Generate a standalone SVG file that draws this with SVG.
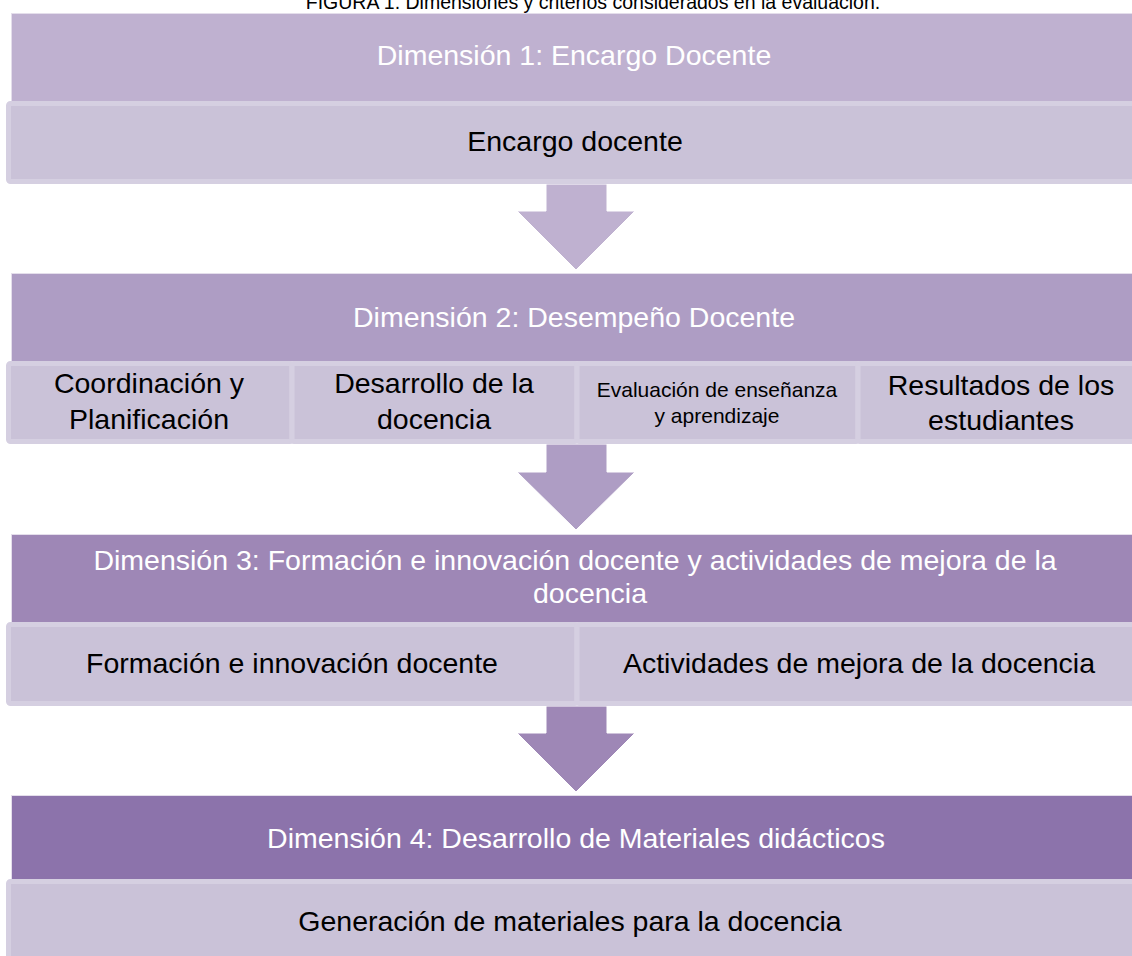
<svg xmlns="http://www.w3.org/2000/svg" width="1132" height="956" viewBox="0 0 1132 956">
  <style>
    text { font-family: "Liberation Sans", Arial, sans-serif; text-anchor: middle; }
    .hd { font-size: 28.5px; fill: #FFFFFF; }
    .sb { font-size: 28.5px; fill: #000000; }
    .sm { font-size: 21px; fill: #000000; }
    .title { font-size: 19.5px; fill: #000000; }
    .cell { fill: #CAC2D8; stroke: #D5CFE1; stroke-width: 5; }
    .h1 { fill: #BFB1D0; stroke: #E4DEEB; stroke-width: 1; }
    .h2 { fill: #AE9DC4; stroke: #E4DEEB; stroke-width: 1; }
    .h3 { fill: #9E87B6; stroke: #E4DEEB; stroke-width: 1; }
    .h4 { fill: #8C73AB; stroke: #E4DEEB; stroke-width: 1; }
  </style>
  <rect width="1132" height="956" fill="#FFFFFF"/>
  <text class="title" x="593" y="9">FIGURA 1. Dimensiones y criterios considerados en la evaluación.</text>

  <g id="connectors">
    <polygon points="546,184 607,184 607,211 635,211 576,270 517,211 546,211" fill="#BFB1D0" stroke="#FFFFFF" stroke-width="1"/>
    <polygon points="546,444 607,444 607,472 635,472 576,530 517,472 546,472" fill="#AE9DC4" stroke="#FFFFFF" stroke-width="1"/>
    <polygon points="546,706 607,706 607,733 635,733 576,792 517,733 546,733" fill="#9E87B6" stroke="#FFFFFF" stroke-width="1"/>
  </g>

  <g id="dim1">
    <rect class="h1" x="11.5" y="13.5" width="1135" height="88"/>
    <text class="hd" x="574" y="65">Dimensión 1: Encargo Docente</text>
  </g>
  <g id="dim1-encargo">
    <rect class="cell" x="8.5" y="103.5" width="1140" height="78" rx="2"/>
    <text class="sb" x="575" y="151">Encargo docente</text>
  </g>

  <g id="dim2">
    <rect class="h2" x="11.5" y="273.5" width="1135" height="88"/>
    <text class="hd" x="574" y="327">Dimensión 2: Desempeño Docente</text>
  </g>
  <g id="dim2-coordinacion">
    <rect class="cell" x="8.5" y="363.5" width="283.5" height="78" rx="2"/>
    <text class="sb" x="149" y="393">Coordinación y</text>
    <text class="sb" x="149" y="429">Planificación</text>
  </g>
  <g id="dim2-desarrollo">
    <rect class="cell" x="292" y="363.5" width="285" height="78" rx="2"/>
    <text class="sb" x="434" y="393">Desarrollo de la</text>
    <text class="sb" x="434" y="429">docencia</text>
  </g>
  <g id="dim2-evaluacion">
    <rect class="cell" x="577" y="363.5" width="281" height="78" rx="2"/>
    <text class="sm" x="717" y="397">Evaluación de enseñanza</text>
    <text class="sm" x="717" y="423">y aprendizaje</text>
  </g>
  <g id="dim2-resultados">
    <rect class="cell" x="858" y="363.5" width="290" height="78" rx="2"/>
    <text class="sb" x="1001" y="395">Resultados de los</text>
    <text class="sb" x="1001" y="430">estudiantes</text>
  </g>

  <g id="dim3">
    <rect class="h3" x="11.5" y="534.5" width="1135" height="88"/>
    <text class="hd" x="575" y="570">Dimensión 3: Formación e innovación docente y actividades de mejora de la</text>
    <text class="hd" x="590" y="603">docencia</text>
  </g>
  <g id="dim3-formacion">
    <rect class="cell" x="8.5" y="624.5" width="568.5" height="79" rx="2"/>
    <text class="sb" x="292" y="673">Formación e innovación docente</text>
  </g>
  <g id="dim3-actividades">
    <rect class="cell" x="577" y="624.5" width="571" height="79" rx="2"/>
    <text class="sb" x="859" y="673">Actividades de mejora de la docencia</text>
  </g>

  <g id="dim4">
    <rect class="h4" x="11.5" y="795.5" width="1135" height="86"/>
    <text class="hd" x="576" y="848">Dimensión 4: Desarrollo de Materiales didácticos</text>
  </g>
  <g id="dim4-generacion">
    <rect class="cell" x="8.5" y="881.5" width="1140" height="90" rx="2"/>
    <text class="sb" x="570" y="931">Generación de materiales para la docencia</text>
  </g>
</svg>
